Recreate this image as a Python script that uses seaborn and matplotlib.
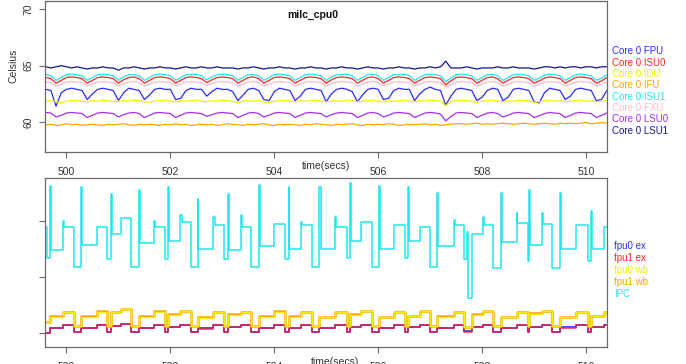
import numpy as np
import pandas as pd
import matplotlib
matplotlib.use("Agg")
import matplotlib.pyplot as plt
import seaborn as sns

sns.set_theme(style="white")
plt.rcParams['font.family'] = ['Liberation Sans', 'DejaVu Sans']

# ---- top panel: core temperatures, one sample every 0.1 s from 499.6 s ----
t_start, t_end = 499.6, 510.4

fpu = [62.9, 62.8, 61.4, 62.6, 62.9, 63.0, 62.9, 62.8, 62.0, 62.5,
       62.9, 63.0, 62.9, 62.8, 61.9, 62.6, 63.0, 62.9, 62.8, 62.0,
       62.4, 62.9, 63.0, 62.9, 62.9, 62.0, 62.1, 62.8, 63.0, 62.9,
       62.9, 62.3, 62.7, 63.0, 62.9, 62.9, 62.7, 61.9, 62.4, 62.9,
       63.0, 62.8, 62.0, 61.9, 62.7, 63.0, 62.9, 62.8, 61.9, 62.3,
       62.9, 63.0, 62.9, 62.8, 61.8, 62.5, 62.9, 63.0, 62.9, 62.7,
       61.8, 62.4, 62.9, 63.0, 62.9, 62.0, 62.1, 62.8, 63.0, 62.9,
       62.9, 61.9, 62.5, 62.9, 63.1, 62.9, 62.8, 61.5, 62.3, 62.9,
       63.0, 62.9, 62.8, 61.9, 62.2, 62.8, 63.0, 62.9, 61.9, 62.2,
       62.9, 63.0, 62.9, 62.8, 61.8, 61.7, 62.6, 63.0, 62.9, 62.8,
       62.0, 62.3, 62.9, 63.0, 62.9, 62.8, 61.9, 62.0, 62.8]
isu0 = [63.95, 63.85, 63.45, 63.7, 63.95, 64.0, 63.95, 63.85, 63.45, 63.7,
        63.95, 64.0, 63.95, 63.85, 63.45, 63.75, 63.95, 64.0, 63.85, 63.45,
        63.7, 63.95, 64.0, 63.95, 63.85, 63.45, 63.7, 63.95, 64.0, 63.95,
        63.85, 63.5, 63.75, 63.95, 64.0, 63.95, 63.85, 63.45, 63.7, 63.95,
        64.0, 63.85, 63.45, 63.7, 63.95, 64.0, 63.95, 63.85, 63.45, 63.7,
        63.95, 64.0, 63.95, 63.85, 63.45, 63.75, 63.95, 64.0, 63.95, 63.85,
        63.45, 63.7, 63.95, 64.0, 63.85, 63.45, 63.7, 63.95, 64.0, 63.95,
        63.85, 63.45, 63.7, 63.95, 64.0, 63.95, 63.85, 63.3, 63.65, 63.95,
        64.0, 63.95, 63.85, 63.45, 63.7, 63.95, 64.0, 63.85, 63.45, 63.7,
        63.95, 64.0, 63.95, 63.85, 63.45, 63.65, 63.9, 64.0, 63.95, 63.85,
        63.45, 63.7, 63.95, 64.0, 63.95, 63.85, 63.45, 63.65, 63.95]
idu = [61.85, 61.9, 61.8, 61.7, 61.85, 61.9, 61.95, 61.85, 61.8, 61.9,
       61.85, 61.95, 61.9, 61.8, 61.85, 61.9, 61.85, 61.95, 61.9, 61.8,
       61.75, 61.85, 61.9, 61.95, 61.85, 61.8, 61.9, 61.85, 61.9, 61.95,
       61.85, 61.8, 61.9, 61.85, 61.95, 61.9, 61.85, 61.7, 61.85, 61.9,
       61.85, 61.9, 61.8, 61.75, 61.85, 61.9, 61.95, 61.85, 61.8, 61.9,
       61.85, 61.9, 61.95, 61.85, 61.8, 61.85, 61.9, 61.85, 61.95, 61.9,
       61.8, 61.85, 61.9, 61.95, 61.85, 61.8, 61.9, 61.85, 61.9, 61.95,
       61.85, 61.8, 61.9, 61.85, 61.95, 61.9, 61.85, 61.45, 61.8, 61.9,
       61.95, 61.9, 61.85, 61.75, 61.85, 61.9, 61.95, 61.85, 61.8, 61.9,
       61.85, 61.9, 61.95, 61.85, 61.75, 61.8, 61.9, 61.95, 61.85, 61.9,
       61.8, 61.85, 61.9, 61.95, 61.85, 61.9, 61.8, 61.85, 61.9]
ifu = [59.75, 59.8, 59.7, 59.75, 59.85, 59.75, 59.8, 59.7, 59.75, 59.8,
       59.75, 59.7, 59.8, 59.75, 59.8, 59.85, 59.75, 59.7, 59.8, 59.75,
       59.8, 59.75, 59.7, 59.8, 59.75, 59.85, 59.75, 59.8, 59.7, 59.75,
       59.8, 59.75, 59.8, 59.7, 59.75, 59.85, 59.8, 59.75, 59.7, 59.8,
       59.75, 59.8, 59.85, 59.75, 59.7, 59.8, 59.75, 59.8, 59.75, 59.7,
       59.8, 59.75, 59.85, 59.8, 59.75, 59.7, 59.8, 59.75, 59.8, 59.85,
       59.75, 59.7, 59.8, 59.75, 59.8, 59.75, 59.85, 59.8, 59.7, 59.75,
       59.8, 59.75, 59.8, 59.85, 59.75, 59.8, 59.7, 59.75, 59.8, 59.85,
       59.85, 59.8, 59.85, 59.9, 59.8, 59.85, 59.8, 59.85, 59.9, 59.85,
       59.8, 59.85, 59.9, 59.85, 59.8, 59.85, 59.9, 59.85, 59.8, 59.9,
       59.85, 59.9, 59.85, 59.9, 59.95, 59.85, 59.9, 59.95, 59.9]
isu1 = [64.2, 64.1, 63.7, 63.95, 64.2, 64.25, 64.2, 64.1, 63.7, 63.95,
        64.2, 64.25, 64.2, 64.1, 63.7, 64.0, 64.2, 64.2, 64.1, 63.7,
        63.95, 64.2, 64.25, 64.2, 64.1, 63.7, 63.95, 64.2, 64.2, 64.25,
        64.1, 63.75, 64.0, 64.2, 64.25, 64.2, 64.1, 63.7, 63.95, 64.2,
        64.2, 64.1, 63.7, 63.95, 64.2, 64.25, 64.2, 64.1, 63.7, 63.95,
        64.2, 64.25, 64.2, 64.1, 63.7, 64.0, 64.2, 64.2, 64.25, 64.1,
        63.7, 63.95, 64.2, 64.25, 64.1, 63.7, 63.95, 64.2, 64.2, 64.25,
        64.1, 63.7, 63.95, 64.2, 64.25, 64.2, 64.1, 63.6, 63.9, 64.2,
        64.25, 64.2, 64.1, 63.7, 63.95, 64.2, 64.25, 64.1, 63.7, 63.95,
        64.2, 64.25, 64.2, 64.1, 63.7, 63.9, 64.15, 64.25, 64.2, 64.1,
        63.7, 63.95, 64.2, 64.25, 64.2, 64.1, 63.7, 63.9, 64.2]
fxu = [63.55, 63.5, 63.2, 63.35, 63.55, 63.6, 63.55, 63.5, 63.2, 63.35,
       63.55, 63.6, 63.55, 63.5, 63.2, 63.4, 63.55, 63.6, 63.5, 63.2,
       63.35, 63.55, 63.6, 63.55, 63.5, 63.2, 63.35, 63.55, 63.6, 63.55,
       63.5, 63.25, 63.4, 63.55, 63.6, 63.55, 63.5, 63.2, 63.35, 63.55,
       63.6, 63.5, 63.2, 63.35, 63.55, 63.6, 63.55, 63.5, 63.2, 63.35,
       63.55, 63.6, 63.55, 63.5, 63.2, 63.4, 63.55, 63.6, 63.55, 63.5,
       63.2, 63.35, 63.55, 63.6, 63.5, 63.2, 63.35, 63.55, 63.6, 63.55,
       63.5, 63.2, 63.35, 63.55, 63.6, 63.55, 63.5, 63.1, 63.3, 63.55,
       63.6, 63.55, 63.5, 63.2, 63.35, 63.55, 63.6, 63.5, 63.2, 63.35,
       63.55, 63.6, 63.55, 63.5, 63.2, 63.35, 63.5, 63.6, 63.55, 63.5,
       63.2, 63.35, 63.55, 63.6, 63.55, 63.5, 63.2, 63.35, 63.55]
lsu0 = [60.85, 60.8, 60.45, 60.6, 60.8, 60.85, 60.8, 60.75, 60.4, 60.6,
        60.8, 60.85, 60.8, 60.75, 60.45, 60.65, 60.8, 60.85, 60.75, 60.4,
        60.6, 60.8, 60.85, 60.8, 60.75, 60.4, 60.6, 60.8, 60.85, 60.8,
        60.75, 60.5, 60.65, 60.8, 60.85, 60.8, 60.75, 60.4, 60.6, 60.8,
        60.85, 60.75, 60.45, 60.6, 60.8, 60.85, 60.8, 60.75, 60.4, 60.6,
        60.8, 60.85, 60.8, 60.75, 60.45, 60.65, 60.8, 60.85, 60.8, 60.75,
        60.4, 60.6, 60.8, 60.85, 60.75, 60.45, 60.6, 60.8, 60.85, 60.8,
        60.75, 60.4, 60.6, 60.8, 60.85, 60.8, 60.7, 60.1, 60.5, 60.8,
        60.85, 60.8, 60.75, 60.4, 60.6, 60.8, 60.85, 60.75, 60.45, 60.6,
        60.8, 60.85, 60.8, 60.75, 60.4, 60.55, 60.75, 60.85, 60.8, 60.75,
        60.4, 60.6, 60.8, 60.85, 60.8, 60.75, 60.4, 60.6, 60.8]
lsu1 = [64.9, 64.8, 64.9, 65.0, 64.9, 64.8, 64.9, 64.8, 64.7, 64.8,
        64.8, 64.9, 64.8, 64.8, 64.6, 64.8, 64.8, 64.9, 64.8, 64.7,
        64.8, 64.8, 64.9, 64.8, 64.8, 64.7, 64.8, 64.9, 64.8, 64.8,
        64.9, 64.8, 64.8, 64.9, 64.8, 64.8, 64.8, 64.7, 64.8, 64.8,
        64.9, 64.8, 64.7, 64.8, 64.8, 64.9, 64.8, 64.8, 64.7, 64.8,
        64.8, 64.9, 64.8, 64.8, 64.7, 64.8, 64.8, 64.9, 64.8, 64.8,
        64.7, 64.8, 64.9, 64.8, 64.8, 64.7, 64.8, 64.8, 64.9, 64.8,
        64.8, 64.7, 64.8, 64.8, 64.9, 64.8, 64.9, 65.4, 64.8, 64.8,
        64.8, 64.9, 64.8, 64.7, 64.8, 64.8, 64.8, 64.9, 64.8, 64.8,
        64.9, 64.8, 64.8, 64.8, 64.7, 64.8, 64.9, 64.9, 64.8, 64.9,
        64.8, 64.9, 64.9, 64.8, 64.9, 64.9, 64.8, 64.9, 64.9]

core_names = ['Core 0 FPU', 'Core 0 ISU0', 'Core 0 IDU', 'Core 0 IFU',
              'Core 0 ISU1', 'Core 0 FXU', 'Core 0 LSU0', 'Core 0 LSU1']
core_vals = [fpu, isu0, idu, ifu, isu1, fxu, lsu0, lsu1]
core_cols = ['#2b2bff', '#ff2424', '#f2f200', '#ffa500',
             '#1ee8ee', '#ffbcc8', '#a52ef0', '#141490']

# ---- bottom panel: fpu activity per phase and IPC ----
seg_t = [499.60, 499.69, 499.93, 500.14, 500.28, 500.58, 500.78, 500.85, 501.05, 501.25,
         501.39, 501.68, 501.89, 501.95, 502.19, 502.39, 502.53, 502.83, 503.03, 503.11,
         503.36, 503.55, 503.71, 504.00, 504.20, 504.28, 504.52, 504.73, 504.87, 505.17,
         505.40, 505.45, 505.67, 505.88, 506.02, 506.31, 506.52, 506.58, 506.81, 507.00,
         507.14, 507.46, 507.65, 507.80, 508.01, 508.21, 508.36, 508.67, 508.88, 508.91,
         509.16, 509.35, 509.50, 509.81, 510.04, 510.09, 510.34, 510.41]
fpu0_ex = [0.0, 0.045, 0.07, 0.01, 0.045, 0.07, 0.01, 0.06, 0.08, 0.01,
           0.045, 0.07, 0.01, 0.055, 0.07, 0.01, 0.045, 0.07, 0.01, 0.055,
           0.07, 0.01, 0.045, 0.075, 0.01, 0.045, 0.07, 0.01, 0.045, 0.07,
           0.01, 0.055, 0.07, 0.01, 0.045, 0.075, 0.01, 0.05, 0.07, 0.01,
           0.045, 0.07, 0.015, 0.055, 0.075, 0.01, 0.045, 0.07, 0.01, 0.055,
           0.07, 0.01, 0.05, 0.07, 0.01, 0.05, 0.07, 0.07]
fpu1_ex = [0.0, 0.045, 0.07, 0.01, 0.045, 0.07, 0.01, 0.06, 0.08, 0.01,
           0.045, 0.07, 0.01, 0.055, 0.07, 0.01, 0.04, 0.07, 0.01, 0.055,
           0.07, 0.01, 0.045, 0.07, 0.01, 0.045, 0.07, 0.01, 0.045, 0.07,
           0.01, 0.055, 0.07, 0.01, 0.045, 0.07, 0.01, 0.05, 0.07, 0.01,
           0.045, 0.07, 0.01, 0.055, 0.07, 0.01, 0.045, 0.07, 0.01, 0.055,
           0.07, 0.01, 0.045, 0.07, 0.01, 0.05, 0.07, 0.07]
fpu0_wb = [0.10, 0.145, 0.185, 0.06, 0.145, 0.19, 0.06, 0.185, 0.21, 0.06,
           0.145, 0.19, 0.06, 0.165, 0.195, 0.06, 0.135, 0.185, 0.06, 0.165,
           0.185, 0.06, 0.145, 0.19, 0.06, 0.145, 0.185, 0.06, 0.14, 0.185,
           0.06, 0.165, 0.195, 0.06, 0.14, 0.185, 0.06, 0.15, 0.195, 0.06,
           0.145, 0.185, 0.055, 0.165, 0.195, 0.06, 0.14, 0.185, 0.06, 0.17,
           0.195, 0.06, 0.14, 0.185, 0.06, 0.15, 0.185, 0.185]
fpu1_wb = [0.10, 0.15, 0.19, 0.06, 0.15, 0.195, 0.06, 0.19, 0.215, 0.06,
           0.15, 0.195, 0.06, 0.17, 0.2, 0.06, 0.14, 0.19, 0.06, 0.17,
           0.19, 0.06, 0.15, 0.195, 0.06, 0.15, 0.19, 0.06, 0.145, 0.19,
           0.06, 0.17, 0.2, 0.06, 0.145, 0.19, 0.06, 0.155, 0.2, 0.06,
           0.15, 0.19, 0.055, 0.17, 0.2, 0.06, 0.145, 0.19, 0.06, 0.175,
           0.2, 0.06, 0.145, 0.19, 0.06, 0.155, 0.19, 0.19]

ipc_t = [499.60, 499.62, 499.69, 499.71, 499.93, 499.95, 500.14, 500.28, 500.30, 500.58,
         500.78, 500.85, 500.87, 501.05, 501.25, 501.39, 501.41, 501.68, 501.71, 501.89,
         501.95, 501.97, 502.19, 502.23, 502.39, 502.53, 502.54, 502.83, 502.85, 503.03,
         503.11, 503.13, 503.36, 503.38, 503.55, 503.71, 503.73, 504.00, 504.20, 504.28,
         504.29, 504.52, 504.54, 504.73, 504.87, 504.89, 505.17, 505.19, 505.40, 505.45,
         505.47, 505.67, 505.88, 506.02, 506.04, 506.31, 506.52, 506.58, 506.60, 506.81,
         507.00, 507.14, 507.16, 507.46, 507.48, 507.65, 507.71, 507.73, 507.80, 508.01,
         508.03, 508.21, 508.36, 508.38, 508.67, 508.68, 508.88, 508.91, 508.93, 509.16,
         509.18, 509.35, 509.50, 509.52, 509.81, 510.04, 510.09, 510.11, 510.34, 510.41]
ipc_v = [0.95, 0.67, 1.31, 0.74, 1.00, 0.95, 0.59, 1.30, 0.79, 0.95,
         0.66, 1.24, 0.88, 1.03, 0.59, 1.28, 0.80, 1.00, 0.95, 0.66,
         1.30, 0.82, 1.05, 0.99, 0.59, 1.20, 0.75, 1.04, 0.96, 0.66,
         1.24, 0.74, 1.05, 0.95, 0.59, 1.32, 0.78, 0.97, 0.66, 1.30,
         0.75, 0.99, 0.96, 0.59, 1.30, 0.75, 1.04, 0.95, 0.67, 1.34,
         0.82, 0.99, 0.59, 1.31, 0.75, 0.96, 0.67, 1.30, 0.82, 0.95,
         0.59, 1.25, 0.78, 1.01, 0.96, 0.66, 0.90, 0.31, 0.88, 1.04,
         0.96, 0.58, 1.25, 0.81, 1.07, 0.98, 0.64, 1.28, 0.79, 1.07,
         0.97, 0.58, 1.25, 0.75, 0.96, 0.64, 1.09, 0.75, 0.95, 0.95]

bottom_names = ['fpu0 ex', 'fpu1 ex', 'fpu0 wb', 'fpu1 wb', 'IPC']
bottom_cols = ['#2b2bff', '#ff2424', '#f2f200', '#ffa500', '#1ee8ee']

W, H = 686, 364
fig = plt.figure(figsize=(W / 100, H / 100), dpi=100, facecolor='white')
ax1 = fig.add_axes([45 / W, 1 - 152 / H, 562 / W, 151 / H])
ax2 = fig.add_axes([45 / W, 1 - 347 / H, 562 / W, 169 / H])

t_top = np.linspace(t_start, t_end, len(fpu))
top_df = pd.concat([pd.DataFrame({'t': t_top, 'temp': v, 'unit': n})
                    for n, v in zip(core_names, core_vals)])
sns.lineplot(data=top_df, x='t', y='temp', hue='unit', hue_order=core_names,
             palette=core_cols, lw=0.9, legend=False, ax=ax1, estimator=None)

sns.lineplot(x=seg_t, y=fpu0_ex, color=bottom_cols[0], lw=1.2, drawstyle='steps-post',
             legend=False, ax=ax2, estimator=None)
sns.lineplot(x=seg_t, y=fpu1_ex, color='#f0203c', lw=1.1, alpha=0.92, drawstyle='steps-post',
             legend=False, ax=ax2, estimator=None)
sns.lineplot(x=seg_t, y=fpu1_wb, color=bottom_cols[3], lw=1.8, drawstyle='steps-post',
             legend=False, ax=ax2, estimator=None)
sns.lineplot(x=seg_t, y=fpu0_wb, color=bottom_cols[2], lw=1.0, drawstyle='steps-post',
             legend=False, ax=ax2, estimator=None)
sns.lineplot(x=ipc_t, y=ipc_v, color=bottom_cols[4], lw=1.1, drawstyle='steps-post',
             legend=False, ax=ax2, estimator=None)

frame = '#6a6a6a'
for ax in (ax1, ax2):
    ax.set_xlim(499.587, 510.404)
    ax.set_xticks([500, 502, 504, 506, 508, 510])
    ax.set_xlabel('')
    ax.set_ylabel('')
    for s in ax.spines.values():
        s.set_color(frame)
        s.set_linewidth(0.9)
    ax.tick_params(axis='both', direction='out', length=4, width=0.8, color=frame,
                   labelsize=7.5, labelcolor='#333333', bottom=True, left=True)
    ax.tick_params(axis='x', pad=7)
    ax.tick_params(axis='y', pad=4)

ax1.set_ylim(57.34, 70.74)
ax1.set_yticks([60, 65, 70])
for lab in ax1.get_yticklabels():
    lab.set_rotation(90)
    lab.set_va('center')
ax1.text(0.477, 0.907, 'milc_cpu0', transform=ax1.transAxes, ha='center', va='center',
         fontsize=7.5, fontweight='bold', color='#111111')

ax2.set_ylim(-0.125, 1.384)
ax2.set_yticks([0, 0.5, 1.0])
ax2.set_yticklabels([])

fig.text(14 / W, 1 - 66 / H, 'Celsius', rotation=90, ha='center', va='center',
         fontsize=7.5, color='#333333')
fig.text(326 / W, 1 - 166 / H, 'time(secs)', ha='center', va='center', fontsize=7.5, color='#333333')
fig.text(335 / W, 1 - 362 / H, 'time(secs)', ha='center', va='center', fontsize=7.5, color='#333333')

for k, (n, c) in enumerate(zip(core_names, core_cols)):
    fig.text(612 / W, 1 - (51.5 + 11.3 * k) / H, n, color=c, fontsize=7, va='center', ha='left')
for k, (n, c) in enumerate(zip(bottom_names, bottom_cols)):
    fig.text(614 / W, 1 - (246 + 12 * k) / H, n, color=c, fontsize=7, va='center', ha='left')

fig.savefig('out.png', dpi=100, facecolor='white')
